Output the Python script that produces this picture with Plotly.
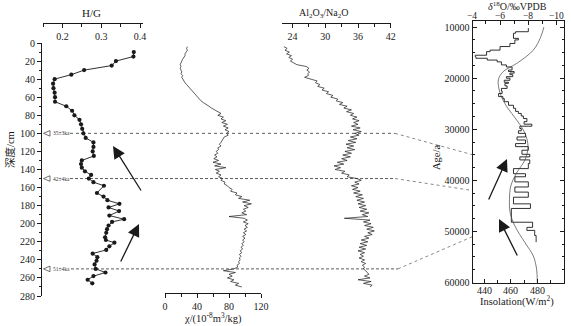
import plotly.graph_objects as go

# ---------------- data ----------------
hg_depth = [10, 15, 20, 25, 30, 35, 40, 45, 50, 55, 60, 65, 70, 75, 80, 85, 90, 95, 100, 105,
            110, 115, 120, 125, 130, 134, 138, 142, 146, 150, 154, 158, 166, 170, 174, 178,
            182, 186, 191, 195, 198, 202, 206, 210, 215, 218, 221, 225, 229, 233, 237, 241,
            245, 250, 254, 258, 262, 266]
hg_val = [0.384, 0.383, 0.338, 0.327, 0.256, 0.223, 0.180, 0.176, 0.177, 0.180, 0.181, 0.181,
          0.210, 0.225, 0.231, 0.244, 0.248, 0.251, 0.254, 0.260, 0.280, 0.280, 0.278, 0.281,
          0.250, 0.248, 0.250, 0.258, 0.274, 0.268, 0.280, 0.307,
          0.289, 0.306, 0.316, 0.347, 0.319, 0.346, 0.321, 0.359, 0.328, 0.319, 0.315, 0.313,
          0.310, 0.312, 0.334, 0.321, 0.313, 0.278, 0.290, 0.288, 0.283, 0.286, 0.311, 0.280,
          0.265, 0.277]

# magnetic susceptibility, sampled every 2 cm from 4 cm
chi_val = [28, 27, 28, 26, 25, 25, 23, 22, 21, 20, 19, 20, 19, 20, 21, 20, 22, 21, 22, 24,
           25, 27, 29, 30, 33, 34, 36, 38, 40, 43, 45, 48, 52, 55, 58, 62, 66, 70, 66, 73,
           70, 76, 71, 78, 73, 79, 75, 80, 77, 79, 74, 73, 71, 70, 68, 70, 66, 67, 64, 66,
           62, 65, 61, 67, 60, 70, 62, 76, 63, 68, 64, 70, 67, 72, 70, 75, 74, 78, 80, 84,
           82, 90, 88, 96, 92, 106, 97, 108, 99, 104, 98, 101, 96, 102, 80, 99, 103, 98, 104, 100,
           103, 99, 102, 98, 101, 97, 100, 97, 99, 96, 98, 95, 97, 94, 96, 93, 95, 93, 94, 92,
           93, 90, 91, 86, 73, 88, 80, 84, 78, 86, 82, 92, 88, 96]
chi_depth = list(range(4, 4 + 2 * len(chi_val), 2))

# Al2O3/Na2O, sampled every 2 cm from 4 cm
aln_val = [22.4, 23.0, 22.6, 23.4, 22.9, 23.8, 23.3, 24.0, 23.6, 24.3, 24.8, 26.5, 27.0, 26.6,
           27.1, 26.8, 26.9, 26.2, 27.6, 28.5, 28.2, 29.0, 28.6, 29.8, 29.4, 30.6, 30.2, 31.4,
           31.0, 32.3, 32.0, 33.2, 32.6, 34.0, 33.4, 34.8, 33.9, 35.2, 34.6, 35.8, 35.0, 36.2,
           35.2, 36.0, 34.8, 36.4, 35.1, 36.6, 35.4, 36.2, 34.6, 35.8, 34.2, 35.6, 33.8, 35.2,
           34.0, 35.4, 33.6, 34.8, 33.2, 34.6, 33.0, 34.0, 32.2, 33.4, 31.6, 32.8, 31.8, 33.6,
           33.0, 34.4, 34.0, 35.8, 36.6, 35.4, 36.2, 34.8, 36.0, 35.0, 36.4, 35.2, 36.8, 35.6,
           37.0, 35.8, 37.2, 36.0, 37.4, 36.2, 37.6, 36.4, 38.0, 36.8, 37.8, 33.5, 38.2, 37.0,
           38.4, 37.2, 38.8, 37.6, 39.0, 37.8, 38.6, 37.2, 38.0, 36.6, 37.8, 36.4, 37.6, 36.2,
           37.4, 36.0, 37.2, 36.4, 37.0, 36.2, 37.2, 36.6, 37.4, 36.8, 37.2, 37.0, 37.4, 37.8,
           38.0, 37.2, 38.2, 36.0, 38.4, 37.0, 38.6, 38.2]
aln_depth = list(range(4, 4 + 2 * len(aln_val), 2))

# stalagmite d18O vs age
d18_age = [10200, 10900, 11200, 12200, 12500, 13200, 13800, 14500, 14800, 15500,
           15800, 16100, 16450, 16800, 17400, 17800, 18400, 18700, 19000, 19300,
           19700, 20000, 20400, 20800, 21000, 21500, 22000, 22500, 23000, 23600,
           24000, 24600, 25300, 25900, 26500, 26900, 27400, 27900, 28500, 29000,
           29400, 29850, 30300, 30800, 31500, 32100, 32800, 33400, 34100, 34900,
           35400, 36000, 36700, 37700, 38700, 39300, 40300, 41300, 42300, 43300,
           44600, 45500, 47200, 48200, 49200, 49800, 50800, 52100]
d18_val = [-8.0, -8.0, -7.1, -6.95, -7.3, -7.05, -6.7, -6.0, -5.3, -5.05,
           -4.25, -4.3, -5.1, -5.8, -6.1, -6.45, -6.85, -6.6, -7.0, -6.7,
           -6.9, -6.45, -6.7, -6.3, -6.6, -6.35, -6.5, -6.1, -6.15, -5.9,
           -6.2, -6.3, -6.6, -6.95, -7.1, -7.3, -7.5, -7.65, -7.9, -7.7,
           -8.25, -7.4, -7.5, -7.3, -7.8, -7.2, -7.8, -7.1, -8.0, -7.55,
           -8.1, -7.4, -8.1, -8.0, -6.95, -7.8, -7.05, -8.0, -7.05, -8.0,
           -6.95, -8.15, -6.8, -6.8, -8.3, -7.9, -8.45, -8.55]

# summer insolation vs age
ins_age = [10000, 12000, 14500, 17100, 18700, 20300, 23000, 25600, 28200, 30800, 33400,
           36000, 38500, 41100, 43700, 46300, 48900, 52200, 54800, 57400, 60000]
ins_val = [485, 482.5, 477, 464.5, 454.3, 450.6, 452, 457, 464.5, 470.7, 473,
           470.7, 464.5, 460, 459, 459.5, 463, 470.7, 477, 479.5, 480]

# dated horizons
date_depth = [100, 150, 250]
date_age = [35000, 42000, 51000]
date_text = ["35±3ka", "42±4ka", "51±4ka"]
date_dash = ["dot", "3px,2px", "3px,2px"]

depth_ticks = list(range(0, 281, 20))
hg_ticks = [0.2, 0.3, 0.4]
chi_ticks = [0, 40, 80, 120]
aln_ticks = [24, 30, 36, 42]
age_ticks = [10000, 20000, 30000, 40000, 50000, 60000]
d18_ticks = [-4, -6, -8, -10]
ins_ticks = [440, 460, 480]

# ---------------- geometry ----------------
W, H = 571, 326
def px(x):
    return x / W
def py(y):
    return 1 - y / H

DEPTH_RANGE = [280, 0]
DEPTH_PX = (43, 296)          # y px of depth 0 and 280
AGE_RANGE = [60000, 8800]
AGE_PX = (21, 282.5)          # y px of top / bottom of age box
D18_RANGE = [-4.07, -10.52]
INS_RANGE = [431.2, 500.2]
BOX4_PX = (472.7, 564)

def depth_to_py(d):
    return DEPTH_PX[0] + (d - 0) / 280 * (DEPTH_PX[1] - DEPTH_PX[0])
def age_to_py(a):
    return AGE_PX[0] + (a - AGE_RANGE[1]) / (AGE_RANGE[0] - AGE_RANGE[1]) * (AGE_PX[1] - AGE_PX[0])
def box4_x(v, rng):
    return BOX4_PX[0] + (v - rng[0]) / (rng[1] - rng[0]) * (BOX4_PX[1] - BOX4_PX[0])

FONT = "Liberation Serif, Times New Roman, serif"
CJK = "Liberation Serif, Noto Sans CJK SC"
INK = "#1a1a1a"
TF = dict(family=FONT, size=10, color=INK)

fig = go.Figure()

fig.add_trace(go.Scatter(x=hg_val, y=hg_depth, xaxis="x", yaxis="y", mode="lines+markers",
                         line=dict(color=INK, width=0.9),
                         marker=dict(color=INK, size=4.2), showlegend=False))
fig.add_trace(go.Scatter(x=chi_val, y=chi_depth, xaxis="x2", yaxis="y", mode="lines",
                         line=dict(color=INK, width=0.7), showlegend=False))
fig.add_trace(go.Scatter(x=aln_val, y=aln_depth, xaxis="x3", yaxis="y", mode="lines",
                         line=dict(color=INK, width=0.7), showlegend=False))
fig.add_trace(go.Scatter(x=d18_val, y=d18_age, xaxis="x4", yaxis="y4", mode="lines",
                         line=dict(color=INK, width=0.9, shape="hv"), showlegend=False))
fig.add_trace(go.Scatter(x=ins_val, y=ins_age, xaxis="x5", yaxis="y4", mode="lines",
                         line=dict(color="#444", width=0.7, shape="spline"), showlegend=False))

depth_dom = [py(DEPTH_PX[1]), py(DEPTH_PX[0])]
age_dom = [py(AGE_PX[1]), py(AGE_PX[0])]
box4 = [px(BOX4_PX[0]), px(BOX4_PX[1])]

common = dict(showgrid=False, zeroline=False, showline=True, linecolor=INK, linewidth=1.1,
              tickcolor=INK, tickfont=TF, tickwidth=1, automargin=False)

fig.update_layout(
    width=W, height=H, margin=dict(l=0, r=0, t=0, b=0, autoexpand=False),
    paper_bgcolor="white", plot_bgcolor="rgba(0,0,0,0)",
    xaxis=dict(domain=[px(43), px(143)], range=[0.15, 0.4077], anchor="free",
               position=py(23), side="bottom", ticks="outside", ticklen=4,
               tickvals=hg_ticks, ticktext=[f"{v:.1f}" for v in hg_ticks],
               minor=dict(dtick=0.05, tick0=0, ticks="outside", ticklen=3, tickcolor=INK),
               **common),
    yaxis=dict(domain=depth_dom, range=DEPTH_RANGE, anchor="free", position=px(41),
               side="left", ticks="outside", ticklen=4, tickvals=depth_ticks,
               minor=dict(dtick=10, tick0=0, ticks="outside", ticklen=2.5, tickcolor=INK),
               **common),
    xaxis2=dict(domain=[px(165), px(261)], range=[0, 120], anchor="free", position=py(293),
                side="bottom", ticks="outside", ticklen=4, tickvals=chi_ticks,
                minor=dict(dtick=20, tick0=0, ticks="outside", ticklen=3, tickcolor=INK),
                **common),
    xaxis3=dict(domain=[px(281.7), px(390.7)], range=[22, 42], anchor="free", position=py(23),
                side="bottom", ticks="outside", ticklen=4, tickvals=aln_ticks,
                minor=dict(dtick=3, tick0=0, ticks="outside", ticklen=3, tickcolor=INK),
                **common),
    xaxis4=dict(domain=box4, range=D18_RANGE, anchor="y4", side="top",
                ticks="inside", ticklen=4, tickvals=d18_ticks, showticklabels=False,
                minor=dict(dtick=1, tick0=0, ticks="inside", ticklen=2.5, tickcolor=INK),
                **common),
    xaxis5=dict(domain=box4, range=INS_RANGE, anchor="y4", side="bottom",
                overlaying="x4", ticks="inside", ticklen=4, tickvals=ins_ticks,
                showticklabels=False,
                minor=dict(dtick=10, tick0=0, ticks="inside", ticklen=2.5, tickcolor=INK),
                **common),
    yaxis4=dict(domain=age_dom, range=AGE_RANGE, anchor="x4", side="left",
                ticks="inside", ticklen=4, tickvals=age_ticks, tickformat="d",
                mirror="ticks",
                minor=dict(dtick=2500, tick0=0, ticks="inside", ticklen=2.5, tickcolor=INK),
                **common),
)

# ---------------- connecting lines & date labels ----------------
shapes = []
anns = []
h_start = [70, 70, 71]
h_end = [395, 395, 398]
for d, a, t, dash, xs, xe in zip(date_depth, date_age, date_text, date_dash, h_start, h_end):
    yd = depth_to_py(d)
    ya = age_to_py(a)
    shapes.append(dict(type="line", xref="paper", yref="paper", x0=px(xs), x1=px(xe),
                       y0=py(yd), y1=py(yd), layer="below",
                       line=dict(color="#333", width=0.8, dash=dash)))
    shapes.append(dict(type="line", xref="paper", yref="paper", x0=px(xe), x1=px(472.7),
                       y0=py(yd), y1=py(ya), layer="below",
                       line=dict(color="#555", width=0.7, dash="dot")))
    shapes.append(dict(type="path", xref="paper", yref="paper",
                       path=f"M {px(43.5)} {py(yd)} L {px(50)} {py(yd - 2.8)} L {px(50)} {py(yd + 2.8)} Z",
                       line=dict(color="#333", width=0.7), fillcolor="white"))
    anns.append(dict(x=px(51), y=py(yd), xref="paper", yref="paper", text=t,
                     showarrow=False, xanchor="left", yanchor="middle",
                     font=dict(family=FONT, size=5.5, color="#333")))

# tick labels of the right-hand box, placed with the box's x scales
for v in d18_ticks:
    anns.append(dict(x=px(box4_x(v, D18_RANGE)), xref="paper", y=py(AGE_PX[0] - 5),
                     yref="paper", text=f"\u2212{abs(v)}", showarrow=False, xanchor="center",
                     yanchor="middle", font=dict(family=FONT, size=9.5, color=INK)))
for v in ins_ticks:
    anns.append(dict(x=px(box4_x(v, INS_RANGE)), xref="paper", y=py(AGE_PX[1] + 8),
                     yref="paper", text=str(v), showarrow=False, xanchor="center",
                     yanchor="middle", font=dict(family=FONT, size=10, color=INK)))

def label(x, y, text, size=10.5, angle=0, family=FONT):
    anns.append(dict(x=px(x), y=py(y), xref="paper", yref="paper", text=text,
                     showarrow=False, xanchor="center", yanchor="middle", textangle=angle,
                     font=dict(family=family, size=size, color=INK)))

label(91, 13, "H/G", 11)
label(323, 14, "Al<sub>2</sub>O<sub>3</sub>/Na<sub>2</sub>O", 10)
label(213, 318, "χ/(10<sup>-8</sup>m<sup>3</sup>/kg)", 10.5)
label(517, 6, "<i>δ</i><sup>18</sup>O/‰VPDB", 10)
label(517, 301, "Insolation(W/m<sup>2</sup>)", 10.5)
label(436, 158, "Age/a", 10.5, -90)
label(10, 150, "深度/cm", 10.5, -90, CJK)

# arrows (head, tail) in px
arrows = [((113, 146), (142, 192)), ((139, 224), (120, 263)),
          ((507, 159), (488, 201)), ((499, 219), (518, 257))]
for (hx, hy), (tx, ty) in arrows:
    anns.append(dict(x=px(hx), y=py(hy), xref="paper", yref="paper", text="",
                     showarrow=True, ax=tx - hx, ay=ty - hy, axref="pixel", ayref="pixel",
                     arrowhead=2, arrowsize=1.9, arrowwidth=1.3, arrowcolor=INK))

fig.update_layout(shapes=shapes, annotations=anns)
fig.write_html("out.html", config={"displayModeBar": False, "staticPlot": True},
               post_script="document.body.style.margin='0px';document.body.style.overflow='hidden';")
